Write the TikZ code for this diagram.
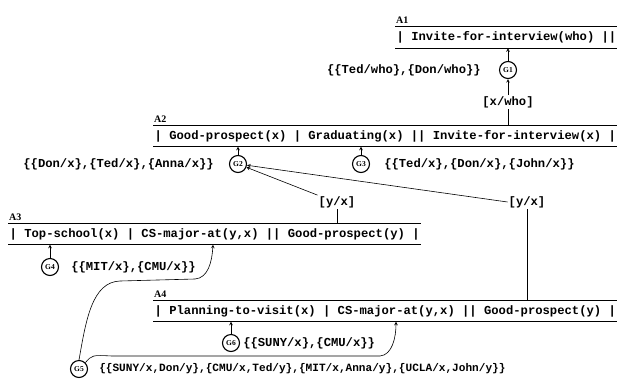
\documentclass[tikz,border=0pt]{standalone}
\usepackage{fontspec}
\usepackage{tikz}
\usetikzlibrary{arrows,positioning}
\newfontfamily\rulemono{Liberation Mono}
\newfontfamily\nameserif{Liberation Serif}

\begin{document}
\begin{tikzpicture}[
    x=1pt, y=-1pt,
    rulebar/.style={anchor=west, minimum height=21pt, inner xsep=1.5pt, inner ysep=0pt, font=\rulemono\bfseries\fontsize{12.2}{14}\selectfont},
    rulename/.style={anchor=south west, inner sep=1pt, font=\nameserif\bfseries\fontsize{10}{12}\selectfont},
    goal/.style={circle, draw, line width=1.1pt, minimum size=17pt, inner sep=0pt, font=\nameserif\bfseries\fontsize{7.5}{8}\selectfont},
    binding/.style={inner sep=1pt, font=\rulemono\bfseries\fontsize{12.2}{14}\selectfont},
    bar/.style={line width=1.1pt},
    arrow/.style={semithick,->,>=stealth},
    link/.style={semithick}
]
\useasboundingbox (0,0) rectangle (617,383);
\clip (0,0) rectangle (617,383);

% rules
\node[rulebar] (a1) at (395,37.5) {| Invite-for-interview(who) ||};
\node[rulebar] (a2) at (153,136) {| Good-prospect(x) | Graduating(x) || Invite-for-interview(x) |};
\node[rulebar] (a3) at (8,234) {| Top-school(x) | CS-major-at(y,x) || Good-prospect(y) |};
\node[rulebar] (a4) at (153,311) {| Planning-to-visit(x) | CS-major-at(y,x) || Good-prospect(y) |};
\foreach \r/\t in {a1/A1,a2/A2,a3/A3,a4/A4} {
  \draw[bar] (\r.north west) -- (\r.north east) (\r.south west) -- (\r.south east);
  \node[rulename] at ([yshift=2pt]\r.north west) {\t};
}

% goal nodes
\node[goal] (g1) at (508,70) {G1};
\node[goal] (g2) at (238,164) {G2};
\node[goal] (g3) at (361,164) {G3};
\node[goal] (g4) at (50,267) {G4};
\node[goal] (g5) at (79,369) {G5};
\node[goal] (g6) at (231,343) {G6};

% bindings
\node[binding, left=17pt of g1] (b1) {\{\{Ted/who\},\{Don/who\}\}};
\node[binding, left=14pt of g2] (b2) {\{\{Don/x\},\{Ted/x\},\{Anna/x\}\}};
\node[binding, right=13pt of g3] (b3) {\{\{Ted/x\},\{Don/x\},\{John/x\}\}};
\node[binding, right=11pt of g4] (b4) {\{\{MIT/x\},\{CMU/x\}\}};
\node[binding, right=10pt of g5, font=\rulemono\bfseries\fontsize{11.1}{13}\selectfont] (b5)
  {\{\{SUNY/x,Don/y\},\{CMU/x,Ted/y\},\{MIT/x,Anna/y\},\{UCLA/x,John/y\}\}};
\node[binding, right=2pt of g6] (b6) {\{\{SUNY/x\},\{CMU/x\}\}};

% substitutions
\node[binding] (s1) at (508,102) {[x/who]};
\node[binding] (s2) at (337,202) {[y/x]};
\node[binding] (s3) at (527,202) {[y/x]};

% connectors
\draw[arrow] (g1) -- (g1 |- a1.south);
\draw[link] (a2.north -| s1) -- (s1);
\draw[arrow] (s1) -- (g1);
\draw[arrow] (g2) -- (g2 |- a2.south);
\draw[arrow] (g3) -- (g3 |- a2.south);
\draw[link] (a3.north -| s2) -- (s2);
\draw[arrow] (s2.north west) -- (g2);
\draw[link] (a4.north -| s3) -- (s3);
\draw[arrow] (s3.west) -- (g2);
\draw[arrow] (g4) -- (g4 |- a3.south);
\draw[arrow] (g6) -- (g6 |- a4.south);

% G5 feeds both rules
\draw[arrow] (g5.north) .. controls (86,320) and (92,282) .. (120,281) -- (195,279)
  .. controls (208,278) and (212,262) .. (213,0 |- a3.south);
\draw[arrow] (g5.north east) .. controls (92,355) .. (112,356) -- (380,356)
  .. controls (392,355) and (396,338) .. (396,0 |- a4.south);
\end{tikzpicture}
\end{document}
